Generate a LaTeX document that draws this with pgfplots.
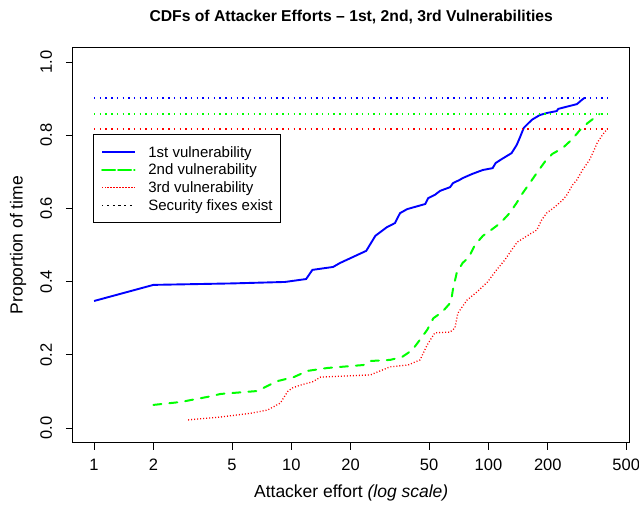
\documentclass[border=0pt]{standalone}
\usepackage{pgfplots}
\pgfplotsset{compat=1.18}
\usepackage{fontspec}
\setmainfont{Liberation Sans}

\definecolor{rblue}{RGB}{0,0,255}
\definecolor{rgreen}{RGB}{0,255,0}
\definecolor{rred}{RGB}{255,0,0}

% CDF curves
\pgfplotstableread{
x y
1 0.347
2 0.391
5 0.395
9.3 0.399
11.9 0.407
12.8 0.432
16.3 0.440
17.7 0.451
24.0 0.484
26.7 0.525
30.6 0.549
33.6 0.560
35.6 0.587
38.7 0.598
47.8 0.612
49.5 0.628
53.5 0.637
56.9 0.648
63.9 0.658
66.1 0.669
71.5 0.678
74.2 0.683
82.6 0.694
93.7 0.705
105 0.710
108.8 0.724
117 0.735
131 0.751
139 0.773
144 0.792
151 0.820
166 0.842
182 0.855
199 0.861
222 0.866
226 0.872
281 0.885
297 0.896
307 0.902
}\first

\pgfplotstableread{
x y
2 0.063
2.75 0.071
3.77 0.085
4.39 0.093
6.74 0.101
7.58 0.115
8.5 0.128
10.3 0.139
12.1 0.156
15.3 0.164
23.2 0.172
25.2 0.183
31.7 0.186
36.5 0.194
41.1 0.213
44.1 0.235
48.9 0.268
52.6 0.300
58.3 0.317
64.6 0.344
66 0.377
69 0.423
74 0.451
79.7 0.467
85.4 0.500
93.7 0.525
105 0.544
115 0.560
128 0.587
139 0.615
147 0.637
162 0.669
176 0.697
193 0.727
211 0.749
238 0.765
267 0.790
291 0.814
318 0.833
366 0.858
}\second

\pgfplotstableread{
x y
3 0.022
4.39 0.030
6.2 0.040
7.58 0.049
8.8 0.068
9.6 0.100
10.1 0.109
11.1 0.117
12.8 0.126
14.1 0.139
25.2 0.145
31.7 0.167
39.1 0.172
45 0.186
48.9 0.227
53.5 0.260
63.9 0.262
67.6 0.273
70 0.314
78 0.350
87.6 0.372
99 0.399
110 0.432
121 0.459
131 0.486
140 0.508
166 0.533
176 0.541
186 0.568
197 0.587
217 0.604
238 0.623
250 0.637
267 0.664
281 0.678
300 0.705
325 0.732
344 0.760
356 0.779
378 0.800
400 0.817
}\third

\begin{document}
\begin{tikzpicture}[x=1pt,y=1pt]
\path[use as bounding box] (0,0) rectangle (639,506);
\begin{axis}[
  at={(72.8pt,63.4pt)}, anchor=south west,
  scale only axis, width=556.8pt, height=395.2pt,
  xmode=log, xmin=0.78, xmax=520, ymin=-0.04, ymax=1.04,
  xtick={1,2,5,10,20,50,100,200,500},
  xticklabels={1,2,5,10,20,50,100,200,500},
  ytick={0,0.2,0.4,0.6,0.8,1},
  yticklabels={0.0,0.2,0.4,0.6,0.8,1.0},
  xminorticks=false, yminorticks=false,
  xtick pos=bottom, ytick pos=left,
  tick align=outside, major tick length=7pt,
  tick style={black, line width=0.8pt},
  axis line style={line width=0.8pt},
  ticklabel style={font=\fontsize{16.5}{19}\selectfont},
  xticklabel style={anchor=base, inner sep=0pt},
  xticklabel shift=21pt,
  yticklabel style={rotate=90, anchor=base, inner sep=0pt},
  yticklabel shift=14pt,
  legend style={at={(0.0368,0.780)}, anchor=north west, draw=black,
    line width=0.8pt, font=\fontsize{15}{18}\selectfont,
    inner xsep=7.4pt, inner ysep=8.4pt, row sep=0pt, column sep=12.7pt,
    nodes={inner sep=0pt, text height=13.9pt, text depth=3.9pt}},
  legend cell align=left,
  legend image code/.code={\path (0pt,0pt) -- (32.6pt,0pt);
    \draw[#1] (5pt,0pt) -- (32.6pt,0pt);},
]
\addplot[rblue, line width=1.9pt, sharp plot] table {\first};
\addlegendentry{1st vulnerability}
\addplot[rgreen, line width=2pt, line cap=round, dash pattern=on 8pt off 8pt, sharp plot] table {\second};
\addlegendentry{2nd vulnerability}
\addplot[rred, line width=1.3pt, dash pattern=on 1pt off 2pt, sharp plot] table {\third};
\addlegendentry{3rd vulnerability}
\addlegendimage{black, line width=1.4pt, dash pattern=on 1.4pt off 4.3pt}
\addlegendentry{Security fixes exist}
\addplot[rblue, line width=1.4pt, dash pattern=on 1.4pt off 4.3pt, forget plot] coordinates {(1,0.902) (400,0.902)};
\addplot[rgreen, line width=1.4pt, dash pattern=on 1.4pt off 4.3pt, forget plot] coordinates {(1,0.858) (400,0.858)};
\addplot[rred, line width=1.4pt, dash pattern=on 1.4pt off 4.3pt, forget plot] coordinates {(1,0.817) (400,0.817)};
\end{axis}
\node[font=\bfseries\fontsize{15.7}{18}\selectfont] at (351.2,489) {CDFs of Attacker Efforts – 1st, 2nd, 3rd Vulnerabilities};
\node[font=\fontsize{17.5}{20}\selectfont] at (351.2,13) {Attacker effort \textit{(log scale)}};
\node[font=\fontsize{17.5}{20}\selectfont, rotate=90] at (18,261) {Proportion of time};
\end{tikzpicture}
\end{document}
